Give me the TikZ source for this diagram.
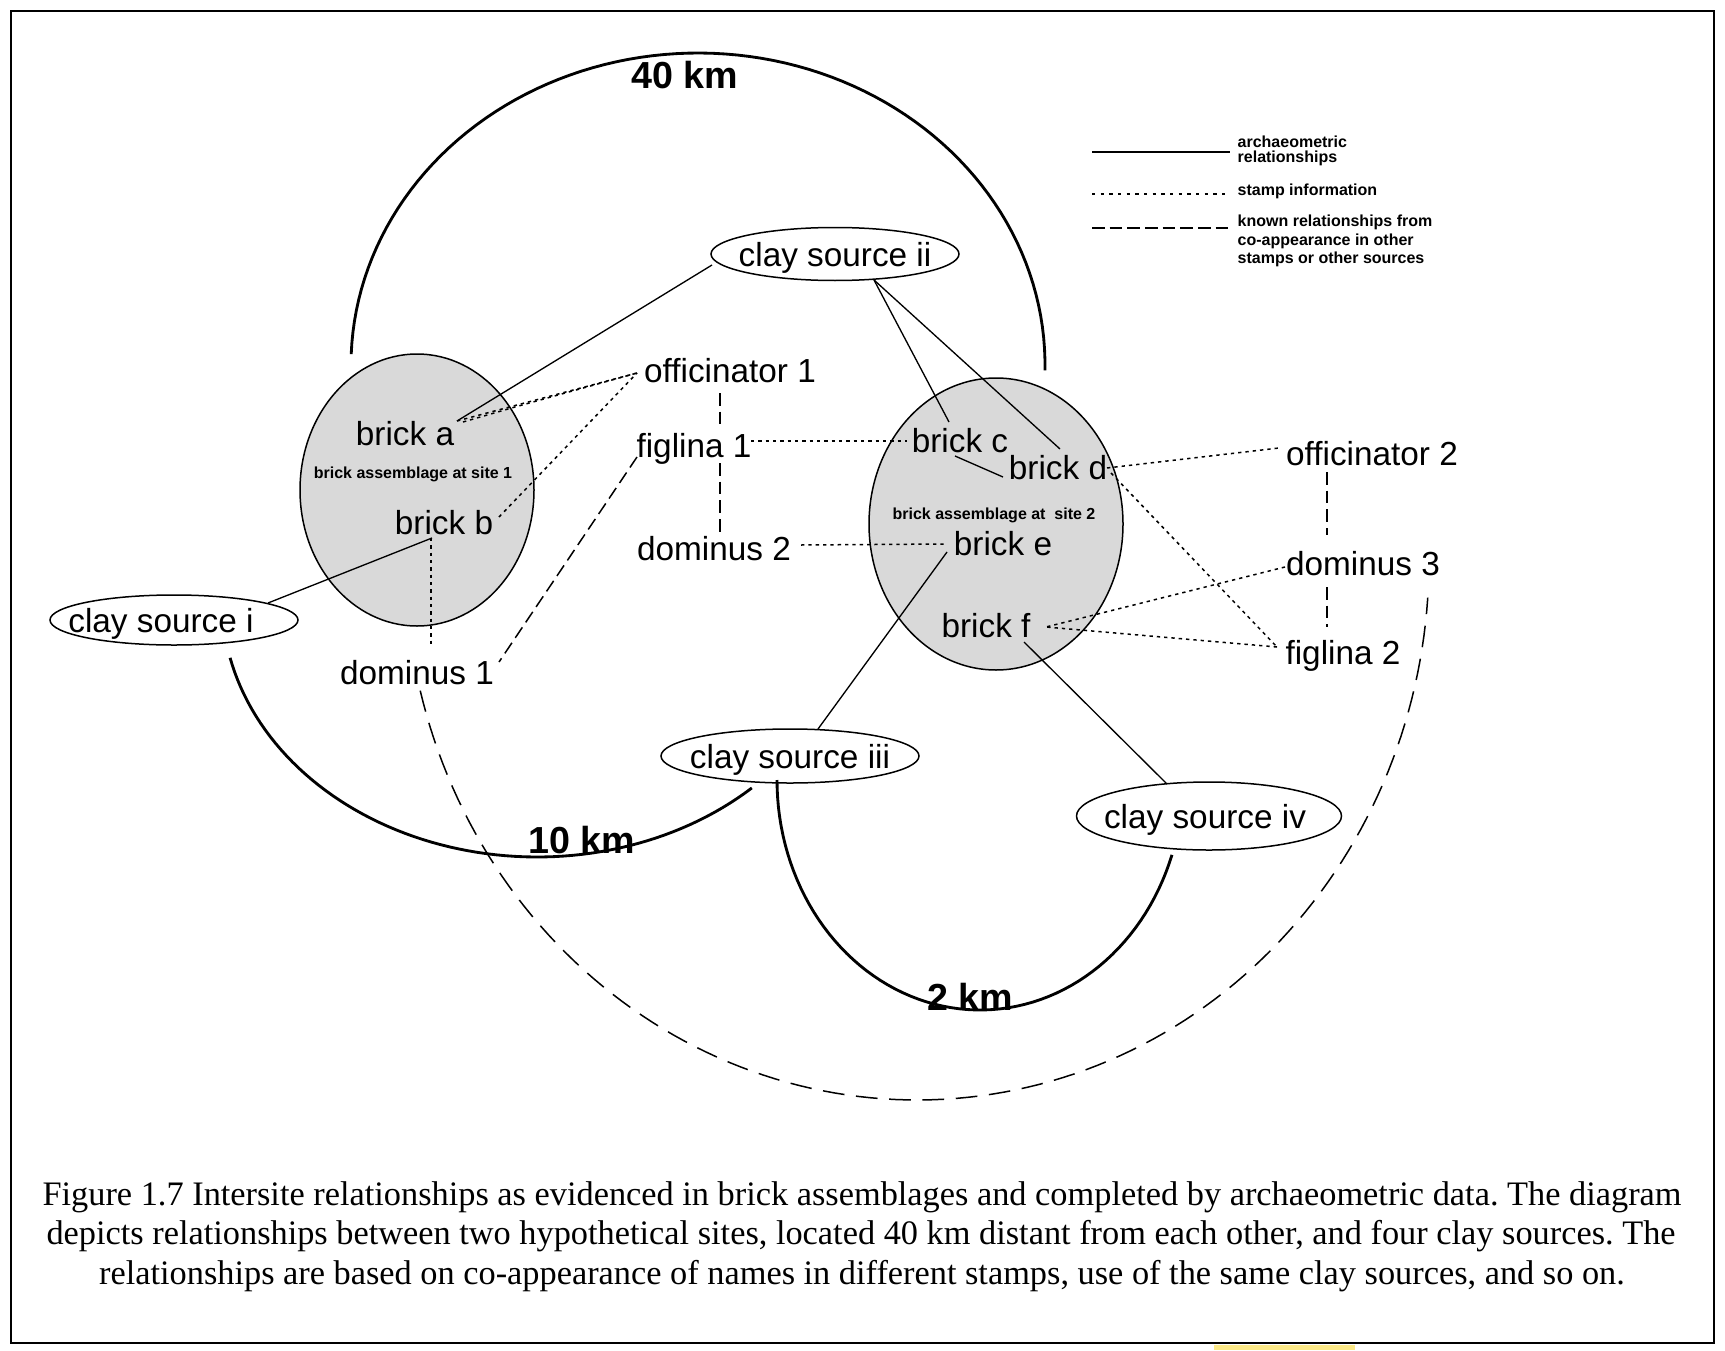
\documentclass[tikz,border=0pt]{standalone}
\usepackage{fontspec}
\setmainfont{Liberation Serif}
\newfontfamily\arialf{Liberation Sans}
\usetikzlibrary{calc,shapes.geometric}
\definecolor{hl}{RGB}{252,233,135}
\frenchspacing
\begin{document}
\begin{tikzpicture}[x=0.3pt,y=-0.3pt,
  lbl/.style={font=\arialf\fontsize{10}{12}\selectfont, inner sep=0pt, text height=7.2pt, text depth=0pt},
  sitelbl/.style={font=\arialf\bfseries\fontsize{4.8}{5.5}\selectfont, inner sep=0pt, text height=3.5pt, text depth=0pt},
  kmlbl/.style={font=\arialf\bfseries\fontsize{11.3}{13}\selectfont, inner sep=0pt, text height=8.1pt, text depth=0pt},
  legt/.style={font=\arialf\bfseries\fontsize{4.8}{4.3}\selectfont, align=left, inner sep=0pt},
  capt/.style={font=\fontsize{10.3}{12}\selectfont, inner sep=0pt},
  clay/.style={draw, ellipse, inner sep=0pt, outer sep=0pt, line width=0.45pt, fill=white},
  site/.style={draw, ellipse, inner sep=0pt, outer sep=0pt, line width=0.45pt, fill=black!15},
  arch/.style={line width=0.4pt},
  stamp/.style={line width=0.45pt, dash pattern=on 1pt off 1.2pt},
  known/.style={line width=0.45pt, dash pattern=on 3.8pt off 1.8pt},
  bigknown/.style={line width=0.45pt, dash pattern=on 6.5pt off 3.5pt},
  dist/.style={line width=0.85pt},
]
\useasboundingbox (0,0) rectangle (1725,1350);
\fill[white] (0,0) rectangle (1725,1350);
\draw[line width=0.75pt] (11,11) rectangle (1714,1343);
\fill[hl] (1214,1345) rectangle (1355,1350);

% ellipses
\node[site, minimum width=70.2pt, minimum height=81.6pt] (site1) at (417,490) {};
\node[site, minimum width=76.2pt, minimum height=87.6pt] (site2) at (996,524) {};
\node[clay, minimum width=74.4pt, minimum height=15.9pt] (c2) at (835,254) {};
\node[clay, minimum width=74.4pt, minimum height=15pt] (c1) at (174,620) {};
\node[clay, minimum width=77.4pt, minimum height=16.2pt] (c3) at (790,756) {};
\node[clay, minimum width=79.5pt, minimum height=20.4pt] (c4) at (1209,816) {};

% distance arcs
\draw[dist] plot[domain=182:361, samples=90] ({698+347*cos(\x)},{365+312*sin(\x)});
\draw[dist] plot[domain=47:167, samples=70] ({537+315*cos(\x)},{600+257*sin(\x)});
\draw[dist] plot[domain=19:180, samples=70] ({980+203*cos(\x)},{780+230*sin(\x)});
\draw[bigknown] plot[domain=166:4, samples=120] ({917+512*cos(\x)},{560+540*sin(\x)});

% text labels
\node[lbl] (c2t) at (c2) {clay source ii};
\node[lbl] (c1t) at ($(c1)+(-13,0)$) {clay source i};
\node[lbl] (c3t) at (c3) {clay source iii};
\node[lbl] (c4t) at ($(c4)+(-4,0)$) {clay source iv};
\node[lbl] (bricka) at (405,433) {brick a};
\node[sitelbl] (site1l) at (413,473) {brick assemblage at site 1};
\node[lbl] (brickb) at (444,522) {brick b};
\node[lbl] (off1) at (730,370) {officinator 1};
\node[lbl] (fig1) at (694,445) {figlina 1};
\node[lbl] (dom2) at (714,548) {dominus 2};
\node[lbl] (dom1) at (417,672) {dominus 1};
\node[lbl] (brickc) at (960,440) {brick c};
\node[lbl] (brickd) at (1058,467) {brick d};
\node[sitelbl] (site2l) at (994,514) {brick assemblage at\ \ site 2};
\node[lbl] (bricke) at (1003,543) {brick e};
\node[lbl] (brickf) at (986,625) {brick f};
\node[lbl] (off2) at (1372,453) {officinator 2};
\node[lbl] (dom3) at (1363,563) {dominus 3};
\node[lbl] (fig2) at (1343,652) {figlina 2};
\node[kmlbl] (km40) at (685,75) {40 km};
\node[kmlbl] (km10) at (582,840) {10 km};
\node[kmlbl] (km2) at (970,997) {2 km};

% archaeometric relationships
\draw[arch] ($(c2)+(-123,11)$) -- ($(bricka)+(52,-12)$);
\draw[arch] ($(c2)+(39,26)$) -- ($(brickc)+(-11,-18)$);
\draw[arch] ($(c2)+(39,26)$) -- ($(brickd)+(2,-18)$);
\draw[arch] ($(brickc)+(-5,16)$) -- ($(brickd)+(-55,10)$);
\draw[arch] ($(brickb)+(-12,16)$) -- ($(c1)+(94,-17)$);
\draw[arch] ($(bricke)+(-56,9)$) -- ($(c3)+(28,-27)$);
\draw[arch] ($(brickf)+(38,17)$) -- ($(c4)+(-42,-32)$);

% stamp information
\draw[stamp] ($(bricka)+(52,-12)$) -- ($(off1)+(-93,3)$);
\draw[stamp] ($(bricka)+(58,-11)$) -- ($(bricka)+(110,-26)$) -- ($(off1)+(-93,3)$);
\draw[stamp] ($(brickb)+(55,-5)$) -- ($(off1)+(-93,3)$);
\draw[stamp] ($(brickb)+(-13,16)$) -- ($(dom1)+(14,-25)$);
\draw[stamp] ($(fig1)+(57,-4)$) -- ($(brickc)+(-53,1)$);
\draw[stamp] ($(dom2)+(87,-3)$) -- ($(bricke)+(-56,1)$);
\draw[stamp] ($(brickd)+(49,1)$) -- ($(off2)+(-93,-5)$);
\draw[stamp] ($(brickd)+(53,6)$) -- ($(fig2)+(-66,-5)$);
\draw[stamp] ($(dom3)+(-78,4)$) -- ($(brickf)+(60,2)$);
\draw[stamp] ($(fig2)+(-66,-5)$) -- ($(brickf)+(60,2)$);

% known relationships
\draw[known] ($(off1)+(-10,23)$) -- ($(fig1)+(26,-20)$);
\draw[known] ($(fig1)+(26,18)$) -- ($(dom2)+(6,-16)$);
\draw[known] ($(fig1)+(-57,12)$) -- ($(dom1)+(82,-10)$);
\draw[known] ($(off2)+(-45,19)$) -- ($(dom3)+(-36,-28)$);
\draw[known] ($(dom3)+(-36,24)$) -- ($(fig2)+(-16,-25)$);

% legend
\node[legt, anchor=west] (leg1) at (1237,151) {archaeometric\\relationships};
\node[legt, anchor=west] (leg2) at (1237,191) {stamp information};
\node[legt, anchor=west] (leg3) at (1237,241) {known relationships from\\co-appearance in other\\stamps or other sources};
\coordinate (l1s) at (1092,152); \coordinate (l1e) at (1230,152);
\coordinate (l2s) at (1092,194); \coordinate (l2e) at (1229,194);
\coordinate (l3s) at (1092,228); \coordinate (l3e) at (1229,228);
\draw[line width=0.5pt] (l1s) -- (l1e);
\draw[line width=0.5pt, dash pattern=on 1pt off 1.6pt] (l2s) -- (l2e);
\draw[line width=0.5pt, dash pattern=on 3.8pt off 1.5pt] (l3s) -- (l3e);

% caption
\node[capt, anchor=base] (cap1) at (862,1205) {Figure 1.7 Intersite relationships as evidenced in brick assemblages and completed by archaeometric data. The diagram};
\node[capt, anchor=base] (cap2) at (861,1244) {depicts relationships between two hypothetical sites, located 40 km distant from each other, and four clay sources. The};
\node[capt, anchor=base] (cap3) at (862,1284) {relationships are based on co-appearance of names in different stamps, use of the same clay sources, and so on.};
\end{tikzpicture}
\end{document}
